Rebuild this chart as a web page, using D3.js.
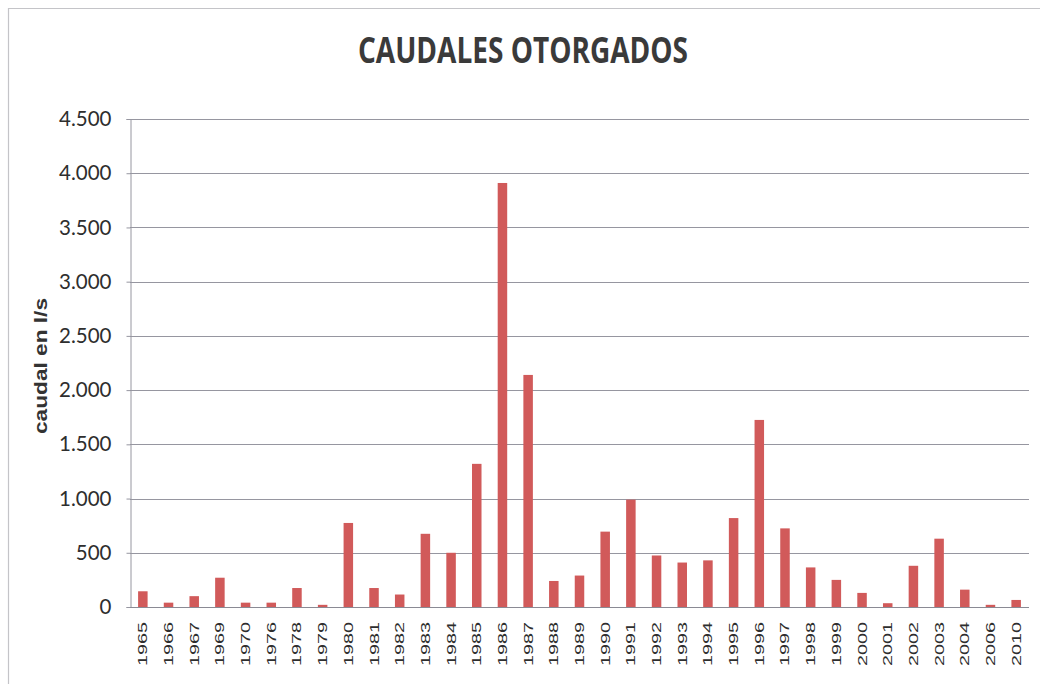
<!DOCTYPE html>
<html>
<head>
<meta charset="utf-8">
<script src="https://cdn.jsdelivr.net/npm/d3@7"></script>
<style>
  html, body { margin: 0; padding: 0; background: #fff; }
  svg { display: block; }
</style>
</head>
<body>
<svg id="chart" width="1040" height="684"></svg>
<script>
const years = ["1965","1966","1967","1969","1970","1976","1978","1979","1980","1981","1982","1983","1984","1985","1986","1987","1988","1989","1990","1991","1992","1993","1994","1995","1996","1997","1998","1999","2000","2001","2002","2003","2004","2006","2010"];
const caudales = [145,40,100,270,40,40,175,20,775,175,115,675,500,1320,3910,2140,240,290,695,990,475,410,430,820,1725,725,365,250,130,35,380,630,160,20,65];
const yTicks = [0,500,1000,1500,2000,2500,3000,3500,4000,4500];
const titleText = "CAUDALES OTORGADOS";
const yAxisTitle = "caudal en l/s";

const svg = d3.select("#chart");
const W = 1040, H = 684;
const m = { left: 130, right: 1029, top: 119, bottom: 607 };

svg.append("rect").attr("width", W).attr("height", H).attr("fill", "#fff");
// outer frame
svg.append("path").attr("d", `M8.5,${H} V8.5 H${W}`)
  .attr("fill", "none").attr("stroke", "#c4c4c8").attr("stroke-width", 1.2);

const x = d3.scaleBand().domain(years).range([m.left, m.right])
  .paddingInner(0.63).paddingOuter(0.315);
const y = d3.scaleLinear().domain([0, 4500]).range([m.bottom, m.top]);

const locale = d3.formatLocale({ decimal: ",", thousands: ".", grouping: [3], currency: ["", ""] });
const fmt = locale.format(",d");

// gridlines
svg.append("g").selectAll("line").data(yTicks.filter(d => d > 0)).join("line")
  .attr("x1", m.left).attr("x2", m.right)
  .attr("y1", d => Math.round(y(d)) + 0.5).attr("y2", d => Math.round(y(d)) + 0.5)
  .attr("stroke", "#9696a0").attr("stroke-width", 1);

// y axis
const yAxis = d3.axisLeft(y).tickValues(yTicks).tickFormat(fmt).tickSize(4).tickPadding(15);
const gy = svg.append("g").attr("transform", `translate(${m.left + 0.5},0)`).call(yAxis);
gy.select(".domain").attr("stroke", "#9696a0");
gy.selectAll(".tick line").attr("stroke", "#9696a0");
gy.selectAll(".tick text")
  .attr("font-family", "Lato, 'Open Sans', sans-serif")
  .attr("font-size", 20.5).attr("fill", "#2e2e2e");

// bars
svg.append("g").selectAll("rect").data(years).join("rect")
  .attr("x", d => x(d))
  .attr("width", x.bandwidth())
  .attr("y", (d, i) => y(caudales[i]))
  .attr("height", (d, i) => y(0) - y(caudales[i]))
  .attr("fill", "#d15a5a");

// x axis baseline
svg.append("line").attr("x1", m.left).attr("x2", m.right)
  .attr("y1", y(0) + 0.5).attr("y2", y(0) + 0.5)
  .attr("stroke", "#8a8a94").attr("stroke-width", 1.2);

// x labels
svg.append("g").selectAll("text").data(years).join("text")
  .attr("transform", d => `translate(${x(d) + x.bandwidth() / 2 + 4.5},622) rotate(-90)`)
  .attr("text-anchor", "end")
  .attr("font-family", "'Liberation Sans', Arial, sans-serif")
  .attr("font-size", 12.5).attr("fill", "#2e2e2e")
  .attr("textLength", 44).attr("lengthAdjust", "spacingAndGlyphs")
  .text(d => d);

// title
svg.append("text")
  .attr("x", 523).attr("y", 63)
  .attr("text-anchor", "middle")
  .attr("font-family", "'Open Sans', sans-serif")
  .attr("font-weight", "bold").attr("font-size", 36).attr("fill", "#3a3a3a")
  .attr("textLength", 330).attr("lengthAdjust", "spacingAndGlyphs")
  .text(titleText);

// y axis title
svg.append("text")
  .attr("transform", "translate(47,366) rotate(-90)")
  .attr("text-anchor", "middle")
  .attr("font-family", "'Liberation Sans', Arial, sans-serif")
  .attr("font-weight", "bold").attr("font-size", 18).attr("fill", "#333")
  .attr("textLength", 136).attr("lengthAdjust", "spacingAndGlyphs")
  .text(yAxisTitle);
</script>
</body>
</html>
